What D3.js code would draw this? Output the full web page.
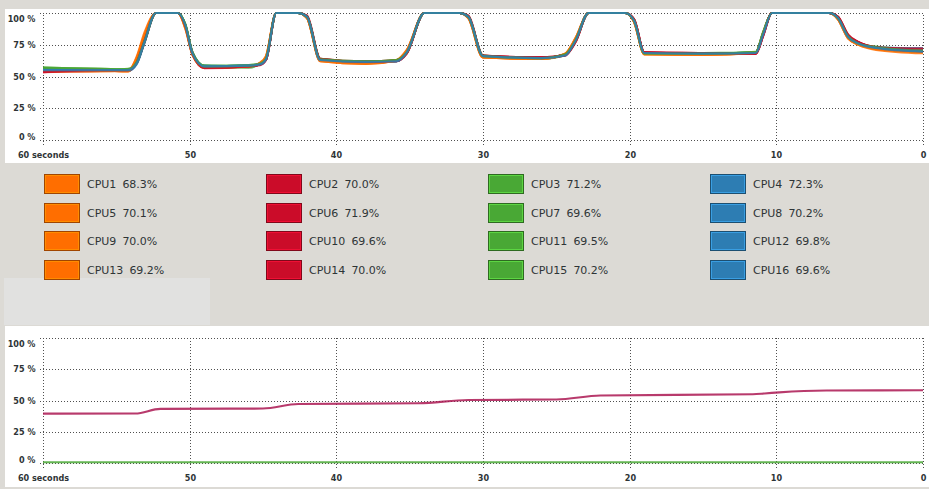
<!DOCTYPE html>
<html>
<head>
<meta charset="utf-8">
<script src="https://cdn.jsdelivr.net/npm/d3@7"></script>
<style>
  body { margin: 0; background: #dcdad5; }
  svg { display: block; font-family: "DejaVu Sans", sans-serif; }
  .axis text { font-family: "DejaVu Sans Condensed", "DejaVu Sans", sans-serif; font-size: 9px; font-weight: bold; fill: #2e3436; }
  .axis line { stroke: #505050; stroke-dasharray: 1,2; shape-rendering: crispEdges; }
  .legend text { font-size: 11px; fill: #2e3436; }
</style>
</head>
<body>
<svg id="chart" width="929" height="489"></svg>
<script>
// seconds ago at which the cpu samples were read
const cpuTimes = [60, 56, 54.2, 53.6, 53.1, 52.3, 50.8, 50.3, 49.8, 49.0,
                  46, 45.2, 44.8, 44.1, 42.6, 42.0, 41.1, 38, 35.9, 35.2,
                  34.0, 31.6, 31.0, 30.0, 26, 24.4, 23.7, 22.8, 20.3, 19.7,
                  19.0, 15, 11.4, 10.9, 10.3, 6.4, 5.8, 5.1, 4.4, 3.2, 0];

const cpu1  = [54, 54.5, 54, 66, 84, 100, 100, 88, 67, 57, 57.5, 61, 66, 100, 100, 96, 62, 60, 63, 71, 100, 100, 96, 65, 64, 68, 80, 100, 100, 93, 67.5, 67, 69, 84, 100, 100, 95, 80, 75, 71, 68.3];
const cpu2  = [53.5, 54.5, 55, 61, 76, 100, 100, 90, 67, 56.5, 58, 59.5, 63, 100, 100, 97, 63.5, 61, 62, 68, 100, 100, 98, 66, 65, 67, 78, 100, 100, 95, 69, 68.5, 68, 82, 100, 100, 97, 83, 77, 73, 70.0];
const cpu3  = [57, 56, 55.5, 61, 77, 100, 100, 91, 69, 58.5, 57, 60, 64, 100, 100, 97, 64, 62, 62.5, 69, 100, 100, 97, 66.5, 64, 67, 78, 100, 100, 94, 68, 68, 69.5, 85, 100, 100, 96, 82, 76, 73.5, 71.2];
const cpu4  = [55, 55, 54.5, 60, 76, 100, 100, 90, 68, 58, 58.5, 59.5, 63.5, 100, 100, 97, 62.5, 61.5, 62, 69, 100, 100, 97, 66, 64.5, 66.5, 78, 100, 100, 94, 68.5, 68, 68.5, 83, 100, 100, 96, 81, 76, 73, 72.3];
const cpu5  = [55, 54, 55.5, 63, 80, 100, 100, 89, 68, 58, 58, 60.5, 65, 100, 100, 96, 63, 61, 62, 70, 100, 100, 97, 65.5, 64, 67.5, 79, 100, 100, 94, 68, 67.5, 68.5, 84, 100, 100, 96, 81, 76, 72, 70.1];
const cpu6  = [56, 55.5, 54.5, 62, 78, 100, 100, 90, 68.5, 57.5, 58.5, 59, 63, 100, 100, 98, 64, 62, 63, 68.5, 100, 100, 97, 66.5, 65, 67, 77, 100, 100, 95, 69, 68, 68, 83, 100, 100, 97, 82, 77, 73, 71.9];
const cpu7  = [56, 55, 56, 62, 77, 100, 100, 91, 68, 58, 59, 60, 64, 100, 100, 97, 63, 61.5, 62.5, 69.5, 100, 100, 97, 66, 64.5, 67.5, 78, 100, 100, 94, 68, 68.5, 69, 84, 100, 100, 96, 81, 76, 72.5, 69.6];
const cpu8  = [54.5, 55, 55, 61, 77, 100, 100, 90, 68, 58.5, 58, 60, 64, 100, 100, 97, 63, 61.5, 62, 69, 100, 100, 97, 66, 64.5, 67, 78, 100, 100, 94, 68.5, 68, 69, 84, 100, 100, 96, 81, 76, 72.5, 70.2];
const cpu9  = [54.5, 55, 54, 64, 81, 100, 100, 89, 67.5, 57, 58, 60, 65, 100, 100, 96, 62.5, 60.5, 62.5, 70, 100, 100, 96, 65, 64, 68, 80, 100, 100, 93, 67.5, 67.5, 69, 84, 100, 100, 95, 80, 75, 72, 70.0];
const cpu10 = [54, 55, 55, 61, 77, 100, 100, 90, 67.5, 57, 58, 59.5, 63.5, 100, 100, 97, 63.5, 61.5, 62, 68.5, 100, 100, 97, 66, 65, 66.5, 77, 100, 100, 95, 69, 68, 68, 82, 100, 100, 97, 82, 77, 72.5, 69.6];
const cpu11 = [56.5, 55.5, 55.5, 61, 77, 100, 100, 91, 68.5, 58.5, 58.5, 60.5, 64, 100, 100, 97, 63.5, 61.5, 63, 69.5, 100, 100, 97, 66.5, 64.5, 67, 78, 100, 100, 94, 68.5, 68, 69, 84, 100, 100, 96, 81, 76, 72.5, 69.5];
const cpu12 = [55.5, 55, 54.5, 61, 77, 100, 100, 90, 68, 58, 58.5, 60, 63.5, 100, 100, 97, 63, 61, 62, 69, 100, 100, 97, 66, 64.5, 67, 78.5, 100, 100, 94, 68.5, 68, 68.5, 83.5, 100, 100, 96, 81, 76, 72.5, 69.8];
const cpu13 = [54, 54.5, 54.5, 65, 82, 100, 100, 88, 67, 57.5, 58, 60.5, 65.5, 100, 100, 96, 62, 60, 62.5, 70.5, 100, 100, 96, 65, 64, 68, 79.5, 100, 100, 93, 67.5, 67, 68.5, 84, 100, 100, 95, 80, 75.5, 71.5, 69.2];
const cpu14 = [53.5, 55, 55, 61.5, 77.5, 100, 100, 90, 68, 57, 58, 59.5, 63, 100, 100, 97.5, 64, 61.5, 62.5, 68.5, 100, 100, 97.5, 66.5, 65, 67, 77.5, 100, 100, 95, 69, 68.5, 68, 82.5, 100, 100, 97, 82.5, 77, 73, 70.0];
const cpu15 = [57, 56, 55.5, 61.5, 77, 100, 100, 91, 68.5, 58, 58.5, 60, 64, 100, 100, 97, 63.5, 62, 63, 69, 100, 100, 97, 66, 64.5, 67.5, 78.5, 100, 100, 94, 68, 68, 69, 84.5, 100, 100, 96, 81.5, 76, 73, 70.2];
const cpu16 = [55, 55, 55, 60.5, 76.5, 100, 100, 90.5, 68, 58, 58.5, 59.5, 63.5, 100, 100, 97, 63, 61.5, 62, 69, 100, 100, 97, 66, 64.5, 66.5, 78, 100, 100, 94, 68.5, 68, 68.5, 83, 100, 100, 96, 81, 76, 72.5, 69.6];

const cpuNames = ["CPU1", "CPU2", "CPU3", "CPU4", "CPU5", "CPU6", "CPU7", "CPU8",
                  "CPU9", "CPU10", "CPU11", "CPU12", "CPU13", "CPU14", "CPU15", "CPU16"];
const cpuCurrent = ["68.3%", "70.0%", "71.2%", "72.3%", "70.1%", "71.9%", "69.6%", "70.2%",
                    "70.0%", "69.6%", "69.5%", "69.8%", "69.2%", "70.0%", "70.2%", "69.6%"];
const cpuColors = ["#FF6E00", "#CB0C29", "#49A835", "#2D7DB3"];

// memory / swap history
const memTimes  = [60, 53.7, 52.0, 45.0, 42.6, 34.4, 31.0, 25.0, 22.0, 11.6, 10.8, 9.8, 6.6, 0];
const memValues = [39.5, 39.6, 43.3, 43.6, 47.2, 47.8, 50.4, 50.8, 54.0, 55.0, 55.6, 56.5, 58.0, 58.2];
const swapTimes  = [60, 0];
const swapValues = [0.6, 0.6];

const xTicks = [60, 50, 40, 30, 20, 10, 0];
const yTicks = [0, 25, 50, 75, 100];

const cpuSeries = [cpu1, cpu2, cpu3, cpu4, cpu5, cpu6, cpu7, cpu8,
                   cpu9, cpu10, cpu11, cpu12, cpu13, cpu14, cpu15, cpu16];

const svg = d3.select("#chart");

// white drawing areas + the odd lighter box between them
svg.append("rect").attr("x", 5).attr("y", 9).attr("width", 924).attr("height", 154).attr("fill", "#fff");
svg.append("rect").attr("x", 5).attr("y", 326).attr("width", 924).attr("height", 161).attr("fill", "#fff");
svg.append("rect").attr("x", 4).attr("y", 278).attr("width", 206).attr("height", 47).attr("fill", "#e1e1e0");

const x = d3.scaleLinear().domain([60, 0]).range([43, 923]);

function drawGraph(top, bottom, series) {
  const y = d3.scaleLinear().domain([0, 100]).range([bottom, top]);
  const g = svg.append("g");

  const yAxis = g.append("g").attr("class", "axis")
    .attr("transform", "translate(39.5,0)")
    .call(d3.axisLeft(y).tickValues(yTicks)
      .tickFormat(d => d + " %")
      .tickSize(-(x.range()[1] - 39)).tickPadding(4));
  yAxis.select(".domain").remove();
  yAxis.selectAll(".tick").attr("transform", d => `translate(0,${Math.round(y(d)) + 0.5})`);
  // labels at the ends are kept inside the plot height
  yAxis.selectAll("text")
    .attr("dy", d => d === 100 ? "0.95em" : d === 0 ? "-0.05em" : "0.32em");

  const xAxis = g.append("g").attr("class", "axis")
    .attr("transform", `translate(0,${bottom + 5})`)
    .call(d3.axisBottom(x).tickValues(xTicks)
      .tickFormat(d => d === 60 ? "60 seconds" : d)
      .tickSize(-(bottom + 5 - top)).tickPadding(7));
  xAxis.select(".domain").remove();
  xAxis.selectAll(".tick").attr("transform", d => `translate(${Math.round(x(d)) + 0.5},0)`);

  const line = d3.line()
    .x(d => x(d[0]))
    .y(d => y(d[1]))
    .curve(d3.curveMonotoneX);

  g.append("g").selectAll("path")
    .data(series)
    .join("path")
    .attr("d", s => line(s.times.map((t, i) => [t, s.values[i]])))
    .attr("fill", "none")
    .attr("stroke", s => s.color)
    .attr("stroke-width", 2.2)
    .attr("stroke-opacity", 0.85)
    .attr("stroke-linejoin", "round");
}

drawGraph(13, 140, cpuSeries.map((v, i) => ({times: cpuTimes, values: v, color: cpuColors[i % 4]})));
drawGraph(338, 463, [
  {times: memTimes, values: memValues, color: "#AB1852"},
  {times: swapTimes, values: swapValues, color: "#49A835"}
]);

// legend, 4 columns
const colX = [44, 266, 488, 710];
const legend = svg.append("g").attr("class", "legend");
const item = legend.selectAll("g")
  .data(cpuNames.map((n, i) => ({name: n, value: cpuCurrent[i], color: cpuColors[i % 4], i})))
  .join("g")
  .attr("transform", d => `translate(${colX[d.i % 4]},${174 + Math.floor(d.i / 4) * 28.67})`);

item.append("rect")
  .attr("x", 0.5).attr("y", 0.5).attr("width", 35).attr("height", 19)
  .attr("fill", d => d.color)
  .attr("stroke", d => d3.color(d.color).darker(1.3))
  .attr("shape-rendering", "crispEdges");
item.append("rect")
  .attr("x", 1.5).attr("y", 1.5).attr("width", 33).attr("height", 17)
  .attr("fill", "none")
  .attr("stroke", d => d3.color(d.color).brighter(0.9))
  .attr("stroke-opacity", 0.7)
  .attr("shape-rendering", "crispEdges");

const label = item.append("text").attr("x", 43).attr("y", 10).attr("dy", "0.35em");
label.append("tspan").text(d => d.name);
label.append("tspan").attr("dx", 6).text(d => d.value);
</script>
</body>
</html>
